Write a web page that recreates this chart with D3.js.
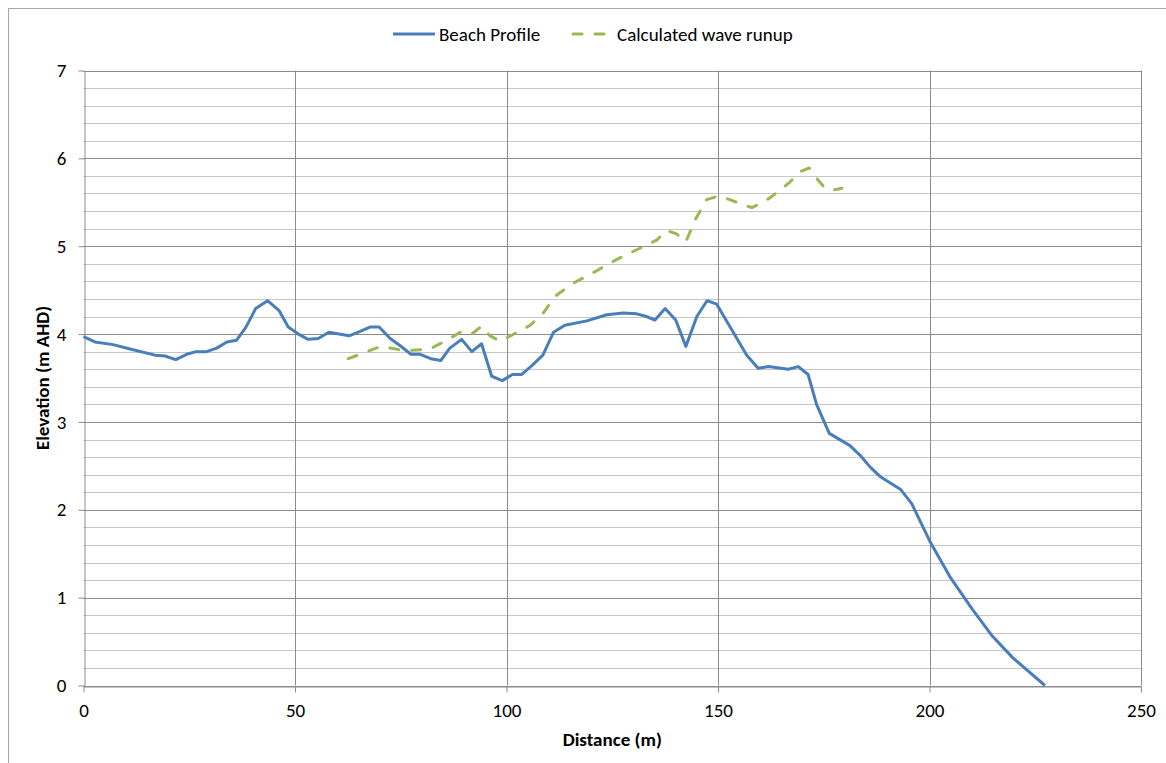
<!DOCTYPE html>
<html>
<head>
<meta charset="utf-8">
<script src="https://cdn.jsdelivr.net/npm/d3@7"></script>
<style>
  html, body { margin: 0; padding: 0; background: #fff; }
  svg { display: block; font-family: Calibri, Carlito, Lato, sans-serif; }
</style>
</head>
<body>
<svg id="chart" width="1166" height="763"></svg>
<script>
// Beach profile survey: distance along the transect (m) and elevation (m AHD)
const profileDistance = [0, 2.7, 7, 11, 16.9, 19.3, 21.8, 24.4, 26.6, 29.1, 31.5, 33.9, 36.2, 38.3, 40.7, 43.5, 46.2, 48.4, 50.8, 53.1, 55.5, 58.0, 62.8, 65.4, 67.7, 69.9, 72.5, 74.8, 77.4, 79.6, 82.1, 84.5, 86.6, 89.4, 91.8, 94.1, 96.5, 99.0, 101.4, 103.6, 106.0, 108.6, 111.1, 113.8, 119.0, 123.7, 127.6, 130.8, 133.1, 135.1, 137.5, 140.0, 142.4, 145.0, 147.4, 149.7, 156.8, 159.5, 161.9, 166.6, 169.0, 171.3, 173.3, 176.3, 181.2, 183.6, 186.1, 188.3, 193.2, 195.8, 200.1, 204.8, 210.1, 214.9, 219.6, 227.3];
const profileElevation = [3.97, 3.91, 3.88, 3.83, 3.76, 3.75, 3.71, 3.77, 3.80, 3.80, 3.84, 3.91, 3.93, 4.07, 4.29, 4.38, 4.27, 4.08, 4.00, 3.94, 3.95, 4.02, 3.98, 4.03, 4.08, 4.08, 3.95, 3.87, 3.77, 3.77, 3.72, 3.70, 3.84, 3.94, 3.80, 3.89, 3.52, 3.47, 3.54, 3.54, 3.64, 3.76, 4.02, 4.10, 4.15, 4.22, 4.24, 4.23, 4.20, 4.16, 4.29, 4.16, 3.86, 4.20, 4.38, 4.34, 3.76, 3.61, 3.63, 3.60, 3.63, 3.54, 3.20, 2.87, 2.73, 2.62, 2.48, 2.38, 2.23, 2.07, 1.64, 1.24, 0.87, 0.56, 0.32, 0.00];

// Calculated wave runup levels along the same transect
const runupDistance = [62.6, 70.3, 76.0, 81.9, 86.6, 89.4, 91.8, 94.1, 96.1, 98.5, 100.6, 105.6, 108.7, 111.5, 115.8, 121.3, 126.1, 130.8, 135.5, 137.9, 140.2, 142.4, 144.6, 147.3, 150.1, 152.8, 156.0, 158.0, 160.7, 163.1, 167.0, 169.4, 171.6, 173.7, 175.3, 177.3, 179.3];
const runupElevation = [3.72, 3.86, 3.81, 3.83, 3.95, 4.03, 4.00, 4.09, 3.98, 3.92, 3.97, 4.10, 4.24, 4.43, 4.58, 4.72, 4.85, 4.96, 5.07, 5.18, 5.14, 5.05, 5.30, 5.53, 5.57, 5.53, 5.47, 5.44, 5.50, 5.58, 5.73, 5.85, 5.89, 5.75, 5.66, 5.64, 5.66];

// Axis ticks
const xTicks = [0, 50, 100, 150, 200, 250];
const yTicks = [0, 1, 2, 3, 4, 5, 6, 7];
const yMinorTicks = d3.range(0, 7.0001, 0.2);

const seriesNames = ["Beach Profile", "Calculated wave runup"];
const seriesColors = ["#4a7ebb", "#98b954"];

const FONT_SIZE = "19px";

const svg = d3.select("#chart");

// Chart frame
svg.append("rect")
  .attr("x", 8.5).attr("y", 8.5)
  .attr("width", 1180).attr("height", 800)
  .attr("fill", "none").attr("stroke", "#a6a6a6").attr("stroke-width", 1);

const plot = { left: 83.5, right: 1141, top: 70.5, bottom: 685.5 };

const x = d3.scaleLinear().domain([0, 250]).range([plot.left, plot.right]);
const y = d3.scaleLinear().domain([0, 7]).range([plot.bottom, plot.top]);

// Minor horizontal gridlines
svg.append("g").selectAll("line")
  .data(yMinorTicks)
  .join("line")
  .attr("x1", plot.left).attr("x2", plot.right)
  .attr("y1", d => Math.round(y(d)) + 0.5).attr("y2", d => Math.round(y(d)) + 0.5)
  .attr("stroke", "#c6c6c6").attr("stroke-width", 1);

// Major horizontal gridlines
svg.append("g").selectAll("line")
  .data(yTicks)
  .join("line")
  .attr("x1", plot.left).attr("x2", plot.right)
  .attr("y1", d => Math.round(y(d)) + 0.5).attr("y2", d => Math.round(y(d)) + 0.5)
  .attr("stroke", "#8c8c8c").attr("stroke-width", 1);

// Vertical gridlines
svg.append("g").selectAll("line")
  .data(xTicks.slice(1))
  .join("line")
  .attr("x1", d => Math.round(x(d)) + 0.5).attr("x2", d => Math.round(x(d)) + 0.5)
  .attr("y1", plot.top).attr("y2", plot.bottom)
  .attr("stroke", "#8c8c8c").attr("stroke-width", 1);

// Axes
const xAxis = svg.append("g")
  .attr("transform", `translate(0,${Math.round(plot.bottom) + 0.5})`)
  .call(d3.axisBottom(x).tickValues(xTicks).tickFormat(d3.format("d"))
    .tickSize(6).tickPadding(11).tickSizeOuter(0));
const yAxis = svg.append("g")
  .attr("transform", `translate(${Math.round(plot.left) + 0.5},0)`)
  .call(d3.axisLeft(y).tickValues(yTicks).tickFormat(d3.format("d"))
    .tickSize(6).tickPadding(12).tickSizeOuter(0));

[xAxis, yAxis].forEach(g => {
  g.select(".domain").attr("stroke", "#8c8c8c");
  g.selectAll(".tick line").attr("stroke", "#8c8c8c");
  g.selectAll(".tick text")
    .attr("fill", "#000")
    .style("font-family", "Calibri, Carlito, Lato, sans-serif")
    .style("font-size", FONT_SIZE);
});

// Series lines
const line = d3.line().x(d => x(d[0])).y(d => y(d[1]));

const profileData = d3.zip(profileDistance, profileElevation);
const runupData = d3.zip(runupDistance, runupElevation);

svg.append("path")
  .datum(runupData)
  .attr("d", line)
  .attr("fill", "none")
  .attr("stroke", seriesColors[1])
  .attr("stroke-width", 3)
  .attr("stroke-linecap", "round")
  .attr("stroke-linejoin", "round")
  .attr("stroke-dasharray", "9,13");

svg.append("path")
  .datum(profileData)
  .attr("d", line)
  .attr("fill", "none")
  .attr("stroke", seriesColors[0])
  .attr("stroke-width", 3)
  .attr("stroke-linejoin", "round");

// Axis titles
svg.append("text")
  .attr("x", (plot.left + plot.right) / 2)
  .attr("y", 746)
  .attr("text-anchor", "middle")
  .style("font-size", FONT_SIZE)
  .style("font-weight", "bold")
  .text("Distance (m)");

svg.append("text")
  .attr("transform", `translate(42,${(plot.top + plot.bottom) / 2}) rotate(-90)`)
  .attr("text-anchor", "middle")
  .attr("dy", "0.35em")
  .style("font-size", FONT_SIZE)
  .style("font-weight", "bold")
  .text("Elevation (m AHD)");

// Legend
const legend = svg.append("g");
const legendItems = [
  { name: seriesNames[0], color: seriesColors[0], x1: 393, x2: 435, tx: 439, dash: null },
  { name: seriesNames[1], color: seriesColors[1], x1: 573, x2: 608, tx: 617, dash: "9,13" }
];
legendItems.forEach(it => {
  legend.append("line")
    .attr("x1", it.x1).attr("x2", it.x2)
    .attr("y1", 34).attr("y2", 34)
    .attr("stroke", it.color)
    .attr("stroke-width", 3)
    .attr("stroke-linecap", it.dash ? "round" : "butt")
    .attr("stroke-dasharray", it.dash);
  legend.append("text")
    .attr("x", it.tx).attr("y", 34)
    .attr("dy", "0.35em")
    .style("font-size", FONT_SIZE)
    .attr("fill", "#000")
    .text(it.name);
});
</script>
</body>
</html>
